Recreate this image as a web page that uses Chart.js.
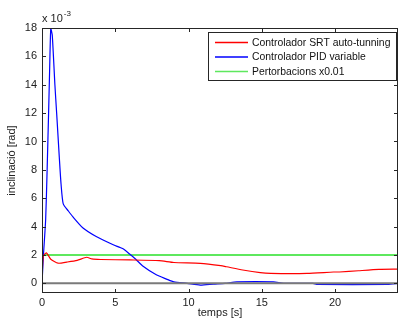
<!DOCTYPE html>
<html>
<head>
<meta charset="utf-8">
<script src="https://cdn.jsdelivr.net/npm/chart.js@4.4.0/dist/chart.umd.min.js"></script>
<style>
  html, body { margin: 0; padding: 0; background: #fff; }
  #wrap { width: 400px; height: 320px; }
</style>
</head>
<body>
<div id="wrap"><canvas id="chart" width="400" height="320"></canvas></div>
<script>
// values are in units of 1e-3 rad (axis shows "x 10^-3")
const tPid = [0, 0.1, 0.25, 0.35, 0.45, 0.52, 0.6, 0.7, 0.88, 1.0, 1.18, 1.3, 1.45, 1.8, 2.1, 2.8, 3.7, 4.9, 5.5, 6.0, 6.4, 6.9, 7.8, 8.5, 9.0, 9.9, 10.8, 11.7, 12.5, 13.3, 15.8, 16.5, 18.5, 18.8, 23.6, 24.3];
const pidVals = [0, 2, 4.5, 8, 12, 15, 18, 17.5, 14, 12, 8.9, 7, 5.6, 5.1, 4.7, 3.9, 3.3, 2.7, 2.45, 2.05, 1.7, 1.2, 0.6, 0.3, 0.1, 0, -0.12, -0.05, 0, 0.1, 0.1, 0, 0, -0.08, -0.08, 0];

const tSrt = [0, 0.08, 0.3, 0.6, 1.1, 1.7, 2.4, 3.05, 3.4, 4.0, 6.0, 8.0, 9.0, 10.8, 12.2, 12.6, 13.7, 14.9, 15.6, 18.1, 19.9, 20.3, 21.6, 23.0, 24.3];
const srtVals = [0, 1.9, 2.15, 1.7, 1.42, 1.5, 1.62, 1.84, 1.72, 1.68, 1.65, 1.6, 1.47, 1.41, 1.25, 1.17, 0.94, 0.75, 0.7, 0.7, 0.8, 0.8, 0.89, 0.98, 1.0];

const tPert = [0, 24.3];
const pertVals = [2, 2];

const tZero = [0, 24.3];
const zeroVals = [0, 0];

const labels = ['Controlador SRT auto-tunning', 'Controlador PID variable', 'Pertorbacions x0.01'];
const xTicks = [0, 5, 10, 15, 20];
const yTicks = [0, 2, 4, 6, 8, 10, 12, 14, 16, 18];

const FONT = '"Liberation Sans", Arial, sans-serif';

function pts(xs, ys) {
    return xs.map((x, i) => ({x: x, y: ys[i]}));
}

const framePlugin = {
    id: 'frame',
    afterDatasetsDraw(chart) {
        const {ctx, chartArea: a, scales} = chart;
        ctx.save();
        ctx.strokeStyle = '#262626';
        ctx.lineWidth = 1;
        ctx.strokeRect(a.left + 0.5, a.top + 0.5, a.right - a.left - 1, a.bottom - a.top - 1);
        ctx.beginPath();
        xTicks.forEach(v => {
            const px = Math.round(scales.x.getPixelForValue(v)) + 0.5;
            ctx.moveTo(px, a.bottom); ctx.lineTo(px, a.bottom - 4);
            ctx.moveTo(px, a.top); ctx.lineTo(px, a.top + 4);
        });
        yTicks.forEach(v => {
            const py = Math.round(scales.y.getPixelForValue(v)) + 0.5;
            ctx.moveTo(a.left, py); ctx.lineTo(a.left + 4, py);
            ctx.moveTo(a.right, py); ctx.lineTo(a.right - 4, py);
        });
        ctx.stroke();
        ctx.restore();
    },
    afterDraw(chart) {
        const {ctx, chartArea: a} = chart;
        ctx.save();
        // exponent label
        ctx.fillStyle = '#222';
        ctx.textBaseline = 'middle';
        ctx.font = '11px ' + FONT;
        ctx.fillText('x 10', a.left, 19);
        const w = ctx.measureText('x 10').width;
        ctx.font = '8px ' + FONT;
        ctx.fillText('-3', a.left + w + 1, 14);

        // legend
        const bx = 208.5, by = 32.5, bw = 188, bh = 48;
        ctx.fillStyle = '#fff';
        ctx.fillRect(bx, by, bw, bh);
        ctx.strokeStyle = '#262626';
        ctx.lineWidth = 1;
        ctx.strokeRect(bx, by, bw, bh);
        const rows = [42, 56.5, 71];
        ctx.font = '10.4px ' + FONT;
        labels.forEach((lab, i) => {
            const ds = chart.data.datasets.find(d => d.label === lab);
            ctx.strokeStyle = ds.borderColor;
            ctx.lineWidth = 1.3;
            ctx.beginPath();
            ctx.moveTo(215, rows[i] + 0.5);
            ctx.lineTo(248, rows[i] + 0.5);
            ctx.stroke();
            ctx.fillStyle = '#111';
            ctx.fillText(lab, 252, rows[i] + 1);
        });
        ctx.restore();
    }
};

new Chart(document.getElementById('chart'), {
    type: 'line',
    data: {
        datasets: [
            {
                label: labels[1],
                data: pts(tPid, pidVals),
                borderColor: '#0000ff',
                borderWidth: 1.2,
                pointRadius: 0,
                tension: 0.2,
                order: 2
            },
            {
                label: labels[0],
                data: pts(tSrt, srtVals),
                borderColor: '#ff0000',
                borderWidth: 1.2,
                pointRadius: 0,
                tension: 0.2,
                order: 1
            },
            {
                label: labels[2],
                data: pts(tPert, pertVals),
                borderColor: '#5ee85e',
                borderWidth: 2,
                pointRadius: 0,
                order: 3
            },
            {
                label: 'zero',
                data: pts(tZero, zeroVals),
                borderColor: '#7a7a7a',
                borderWidth: 2,
                pointRadius: 0,
                order: 0
            }
        ]
    },
    options: {
        responsive: false,
        animation: false,
        devicePixelRatio: 1,
        layout: { padding: { top: 28, right: 2, left: 0, bottom: 0 } },
        plugins: {
            legend: { display: false },
            tooltip: { enabled: false }
        },
        scales: {
            x: {
                type: 'linear',
                min: 0,
                max: 24.3,
                afterBuildTicks: s => { s.ticks = xTicks.map(v => ({value: v})); },
                afterFit: s => { s.height = 27; },
                grid: { display: false, drawTicks: false },
                border: { display: false },
                ticks: {
                    color: '#222',
                    font: { family: FONT, size: 11 },
                    padding: 3,
                    maxRotation: 0,
                    autoSkip: false
                },
                title: {
                    display: true,
                    text: 'temps [s]',
                    color: '#222',
                    font: { family: FONT, size: 11 },
                    padding: { top: 0, bottom: 0 }
                }
            },
            y: {
                type: 'linear',
                min: -0.68,
                max: 18,
                afterBuildTicks: s => { s.ticks = yTicks.map(v => ({value: v})); },
                afterFit: s => { s.width = 42; },
                grid: { display: false, drawTicks: false },
                border: { display: false },
                ticks: {
                    color: '#222',
                    font: { family: FONT, size: 11 },
                    padding: 5,
                    autoSkip: false
                },
                title: {
                    display: true,
                    text: 'inclinació [rad]',
                    color: '#222',
                    font: { family: FONT, size: 11 },
                    padding: { top: 5, bottom: 0 }
                }
            }
        }
    },
    plugins: [framePlugin]
});
</script>
</body>
</html>
